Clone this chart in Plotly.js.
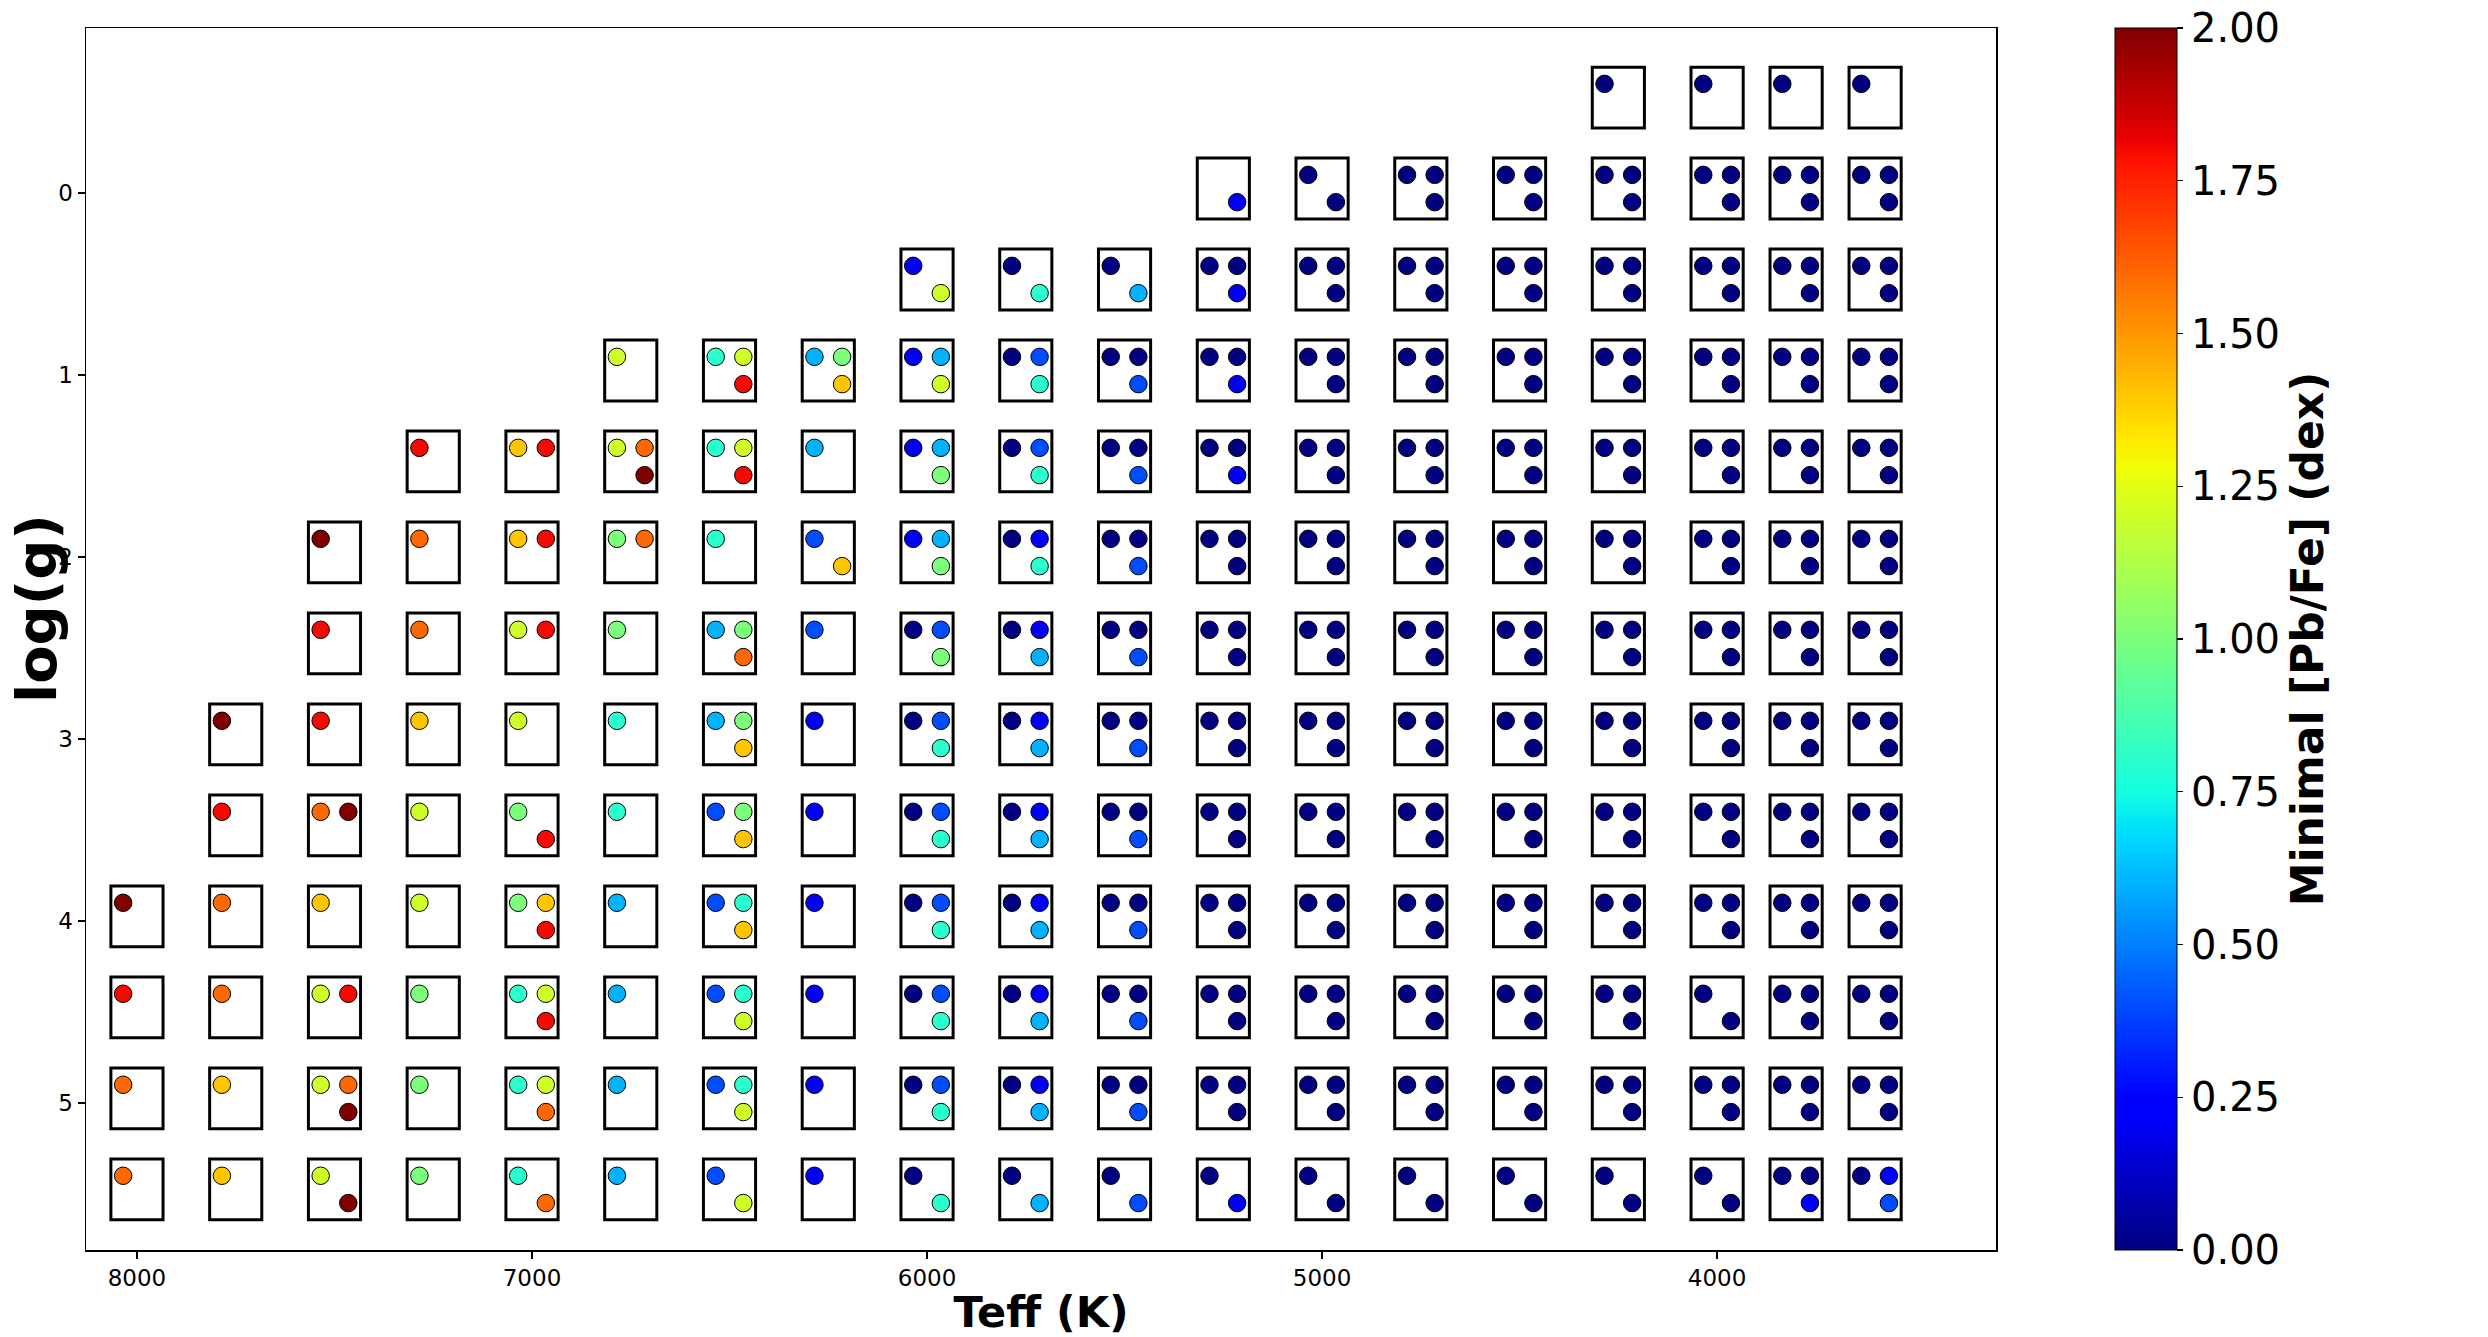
<!DOCTYPE html>
<html>
<head>
<meta charset="utf-8">
<script src="https://cdn.plot.ly/plotly-3.0.1.min.js"></script>
<style>
  html, body { margin: 0; padding: 0; background: #fff; }
  #chart { width: 2488px; height: 1337px; }
</style>
</head>
<body>
<div id="chart"></div>
<script>
const _ = null;

// model grid
const teffGrid = [8000, 7750, 7500, 7250, 7000, 6750, 6500, 6250, 6000, 5750, 5500, 5250, 5000, 4750, 4500, 4250, 4000, 3800, 3600];
const loggGrid = [-0.5, 0, 0.5, 1, 1.5, 2, 2.5, 3, 3.5, 4, 4.5, 5, 5.5];

// minimal [Pb/Fe] per grid point, one matrix per dot inside the box (rows = logg, cols = Teff)
const pbTopLeft = [
  [_,_,_,_,_,_,_,_,_,_,_,_,_,_,_,0,0,0,0],
  [_,_,_,_,_,_,_,_,_,_,_,_,0,0,0,0,0,0,0],
  [_,_,_,_,_,_,_,_,0.2,0,0,0,0,0,0,0,0,0,0],
  [_,_,_,_,_,1.2,0.8,0.6,0.2,0,0,0,0,0,0,0,0,0,0],
  [_,_,_,1.8,1.4,1.2,0.8,0.6,0.2,0,0,0,0,0,0,0,0,0,0],
  [_,_,2.0,1.6,1.4,1.0,0.8,0.4,0.2,0,0,0,0,0,0,0,0,0,0],
  [_,_,1.8,1.6,1.2,1.0,0.6,0.4,0,0,0,0,0,0,0,0,0,0,0],
  [_,2.0,1.8,1.4,1.2,0.8,0.6,0.2,0,0,0,0,0,0,0,0,0,0,0],
  [_,1.8,1.6,1.2,1.0,0.8,0.4,0.2,0,0,0,0,0,0,0,0,0,0,0],
  [2.0,1.6,1.4,1.2,1.0,0.6,0.4,0.2,0,0,0,0,0,0,0,0,0,0,0],
  [1.8,1.6,1.2,1.0,0.8,0.6,0.4,0.2,0,0,0,0,0,0,0,0,0,0,0],
  [1.6,1.4,1.2,1.0,0.8,0.6,0.4,0.2,0,0,0,0,0,0,0,0,0,0,0],
  [1.6,1.4,1.2,1.0,0.8,0.6,0.4,0.2,0,0,0,0,0,0,0,0,0,0,0]
];

const pbTopRight = [
  [_,_,_,_,_,_,_,_,_,_,_,_,_,_,_,_,_,_,_],
  [_,_,_,_,_,_,_,_,_,_,_,_,_,0,0,0,0,0,0],
  [_,_,_,_,_,_,_,_,_,_,_,0,0,0,0,0,0,0,0],
  [_,_,_,_,_,_,1.2,1.0,0.6,0.4,0,0,0,0,0,0,0,0,0],
  [_,_,_,_,1.8,1.6,1.2,_,0.6,0.4,0,0,0,0,0,0,0,0,0],
  [_,_,_,_,1.8,1.6,_,_,0.6,0.2,0,0,0,0,0,0,0,0,0],
  [_,_,_,_,1.8,_,1.0,_,0.4,0.2,0,0,0,0,0,0,0,0,0],
  [_,_,_,_,_,_,1.0,_,0.4,0.2,0,0,0,0,0,0,0,0,0],
  [_,_,2.0,_,_,_,1.0,_,0.4,0.2,0,0,0,0,0,0,0,0,0],
  [_,_,_,_,1.4,_,0.8,_,0.4,0.2,0,0,0,0,0,0,0,0,0],
  [_,_,1.8,_,1.2,_,0.8,_,0.4,0.2,0,0,0,0,0,0,_,0,0],
  [_,_,1.6,_,1.2,_,0.8,_,0.4,0.2,0,0,0,0,0,0,0,0,0],
  [_,_,_,_,_,_,_,_,_,_,_,_,_,_,_,_,_,0,0.2]
];

const pbBottomRight = [
  [_,_,_,_,_,_,_,_,_,_,_,_,_,_,_,_,_,_,_],
  [_,_,_,_,_,_,_,_,_,_,_,0.2,0,0,0,0,0,0,0],
  [_,_,_,_,_,_,_,_,1.2,0.8,0.6,0.2,0,0,0,0,0,0,0],
  [_,_,_,_,_,_,1.8,1.4,1.2,0.8,0.4,0.2,0,0,0,0,0,0,0],
  [_,_,_,_,_,2.0,1.8,_,1.0,0.8,0.4,0.2,0,0,0,0,0,0,0],
  [_,_,_,_,_,_,_,1.4,1.0,0.8,0.4,0,0,0,0,0,0,0,0],
  [_,_,_,_,_,_,1.6,_,1.0,0.6,0.4,0,0,0,0,0,0,0,0],
  [_,_,_,_,_,_,1.4,_,0.8,0.6,0.4,0,0,0,0,0,0,0,0],
  [_,_,_,_,1.8,_,1.4,_,0.8,0.6,0.4,0,0,0,0,0,0,0,0],
  [_,_,_,_,1.8,_,1.4,_,0.8,0.6,0.4,0,0,0,0,0,0,0,0],
  [_,_,_,_,1.8,_,1.2,_,0.8,0.6,0.4,0,0,0,0,0,0,0,0],
  [_,_,2.0,_,1.6,_,1.2,_,0.8,0.6,0.4,0,0,0,0,0,0,0,0],
  [_,_,2.0,_,1.6,_,1.2,_,0.8,0.6,0.4,0.2,0,0,0,0,0,0.2,0.4]
];

const xTicks = [8000, 7000, 6000, 5000, 4000];
const yTicks = [0, 1, 2, 3, 4, 5];
const cbTicks = [0, 0.25, 0.5, 0.75, 1.0, 1.25, 1.5, 1.75, 2.0];

// matplotlib "jet"
const jet = [
  [0, 'rgb(0,0,128)'], [0.11, 'rgb(0,0,255)'], [0.125, 'rgb(0,0,255)'],
  [0.34, 'rgb(0,219,255)'], [0.35, 'rgb(0,230,247)'], [0.375, 'rgb(21,255,226)'],
  [0.64, 'rgb(239,255,8)'], [0.65, 'rgb(247,245,0)'], [0.66, 'rgb(255,236,0)'],
  [0.89, 'rgb(255,19,0)'], [0.91, 'rgb(232,0,0)'], [1, 'rgb(128,0,0)']
];

const dots = [
  {vals: pbTopLeft, dT: 35, dg: -0.1},
  {vals: pbTopRight, dT: -35, dg: -0.1},
  {vals: pbBottomRight, dT: -35, dg: 0.05}
];

const xs = [], ys = [], cs = [];
const shapes = [];

loggGrid.forEach((g, i) => {
  teffGrid.forEach((t, j) => {
    let hasDot = false;
    dots.forEach(d => {
      const v = d.vals[i][j];
      if (v === null) return;
      hasDot = true;
      xs.push(t + d.dT);
      ys.push(g + d.dg);
      cs.push(v);
    });
    if (hasDot) {
      shapes.push({
        type: 'rect', xref: 'x', yref: 'y',
        x0: t + 66, x1: t - 66, y0: g - 0.192, y1: g + 0.142,
        line: {color: 'black', width: 3},
        fillcolor: 'rgba(0,0,0,0)',
        layer: 'below'
      });
    }
  });
});

const font = 'DejaVu Sans, Arial, sans-serif';

const trace = {
  x: xs, y: ys,
  type: 'scatter', mode: 'markers',
  hoverinfo: 'x+y+text', text: cs.map(v => v.toFixed(2)),
  marker: {
    size: 17.5,
    color: cs,
    colorscale: jet,
    cmin: 0, cmax: 2,
    line: {color: 'black', width: 1},
    showscale: true,
    colorbar: {
      x: 1.0623, xanchor: 'left', xref: 'paper', xpad: 0,
      y: 0.5, yanchor: 'middle', len: 1, lenmode: 'fraction', ypad: 0,
      thickness: 62, thicknessmode: 'pixels',
      outlinecolor: 'black', outlinewidth: 1,
      ticks: 'outside', ticklen: 6, tickwidth: 1.2, tickcolor: 'black',
      tickvals: cbTicks, ticktext: cbTicks.map(v => v.toFixed(2)),
      tickfont: {family: font, size: 40, color: 'black'},
      title: {
        text: 'Minimal [Pb/Fe] (dex)', side: 'right',
        font: {family: font, size: 44, color: 'black', weight: 'bold'}
      }
    }
  }
};

const axisBase = {
  showgrid: false, zeroline: false,
  showline: true, mirror: true, linecolor: 'black', linewidth: 1.5,
  ticks: 'outside', ticklen: 7, tickwidth: 1.5, tickcolor: 'black',
  tickfont: {family: font, size: 23, color: 'black'},
  automargin: false
};

const layout = {
  width: 2488, height: 1337,
  margin: {l: 86, r: 492, t: 28, b: 87},
  paper_bgcolor: 'white', plot_bgcolor: 'white',
  showlegend: false,
  xaxis: Object.assign({}, axisBase, {
    range: [8129, 3294],
    tickvals: xTicks,
    title: {text: 'Teff (K)', standoff: 12, font: {family: font, size: 43, color: 'black', weight: 'bold'}}
  }),
  yaxis: Object.assign({}, axisBase, {
    range: [5.808, -0.907],
    tickvals: yTicks
  }),
  // y label sits a little above the axis middle in the original
  annotations: [{
    text: 'log(g)', textangle: -90, showarrow: false,
    xref: 'paper', yref: 'paper', x: 0, y: 0.5245,
    xanchor: 'center', yanchor: 'middle', xshift: -50,
    font: {family: font, size: 56, color: 'black', weight: 'bold'}
  }],
  shapes: shapes
};

Plotly.newPlot('chart', [trace], layout, {staticPlot: true});
</script>
</body>
</html>
